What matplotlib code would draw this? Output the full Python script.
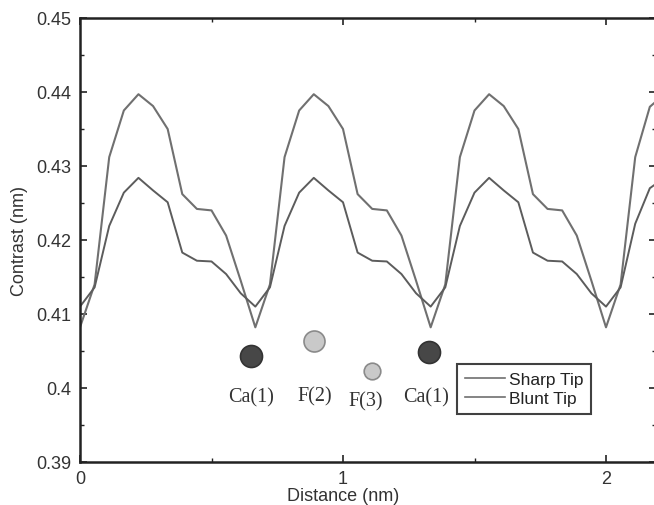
import numpy as np
import matplotlib
matplotlib.use("Agg")
import matplotlib.pyplot as plt
from matplotlib.ticker import MultipleLocator, FuncFormatter

# ---- data ----
distance = [i / 18 for i in range(41)]
sharp_tip = [
    0.4082, 0.4140, 0.4312, 0.4375, 0.4397, 0.4381, 0.4350, 0.4262, 0.4242, 0.4240, 0.4206, 0.4145,
    0.4082, 0.4140, 0.4312, 0.4375, 0.4397, 0.4381, 0.4350, 0.4262, 0.4242, 0.4240, 0.4206, 0.4145,
    0.4082, 0.4140, 0.4312, 0.4375, 0.4397, 0.4381, 0.4350, 0.4262, 0.4242, 0.4240, 0.4206, 0.4145,
    0.4082, 0.4140, 0.4312, 0.4380, 0.4397,
]
blunt_tip = [
    0.4110, 0.4136, 0.4219, 0.4264, 0.4284, 0.4267, 0.4251, 0.4183, 0.4172, 0.4171, 0.4154, 0.4128,
    0.4110, 0.4136, 0.4219, 0.4264, 0.4284, 0.4267, 0.4251, 0.4183, 0.4172, 0.4171, 0.4154, 0.4128,
    0.4110, 0.4136, 0.4219, 0.4264, 0.4284, 0.4267, 0.4251, 0.4183, 0.4172, 0.4171, 0.4154, 0.4128,
    0.4110, 0.4136, 0.4222, 0.4270, 0.4284,
]
atom_labels = ["Ca(1)", "F(2)", "F(3)", "Ca(1)"]
atom_x = [0.650, 0.891, 1.111, 1.328]
atom_y = [0.4043, 0.4063, 0.4023, 0.4048]
atom_label_x = [0.650, 0.891, 1.086, 1.316]
atom_label_y = [0.3988, 0.3990, 0.3983, 0.3988]
atom_kind = ["Ca", "F", "F", "Ca"]
atom_size = [11, 10.5, 8.3, 11]

fig = plt.figure(figsize=(6.54, 5.06), dpi=100)
W, H = 654, 506
ax = fig.add_axes([80 / W, (H - 463) / H, (656 - 80) / W, (463 - 19) / H])

line_color = "#707070"
ax.plot(distance, sharp_tip, color=line_color, lw=1.5, label="Sharp Tip")
ax.plot(distance, blunt_tip, color="#5c5c5c", lw=1.4, label="Blunt Tip")

for x, y, k, r in zip(atom_x, atom_y, atom_kind, atom_size):
    if k == "Ca":
        fc, ec = "#474747", "#333333"
    else:
        fc, ec = "#c9c9c9", "#8a8a8a"
    ax.plot([x], [y], "o", ms=2 * r * 72 / 100, mfc=fc, mec=ec, mew=1.2, zorder=5)

for lab, x, y in zip(atom_labels, atom_label_x, atom_label_y):
    ax.text(x, y, lab, ha="center", va="center", family="Liberation Serif", fontsize=14.5, color="#333333")

ax.set_xlim(0, (656 - 80) / 263)
ax.set_ylim(0.39, 0.45)
ax.xaxis.set_major_locator(MultipleLocator(1))
ax.xaxis.set_minor_locator(MultipleLocator(0.5))
ax.yaxis.set_major_locator(MultipleLocator(0.01))
ax.yaxis.set_minor_locator(MultipleLocator(0.005))
ax.yaxis.set_major_formatter(FuncFormatter(lambda v, p: "0.4" if abs(v - 0.4) < 1e-9 else "%.2f" % v))

ax.tick_params(which="both", direction="in", top=True, right=True, colors="#222222",
               labelsize=13, labelcolor="#333333")
ax.tick_params(which="major", length=5, width=1.2, pad=6)
ax.tick_params(which="minor", length=3, width=1.0)
for lab in ax.get_xticklabels() + ax.get_yticklabels():
    lab.set_family("Liberation Sans")
for s in ax.spines.values():
    s.set_linewidth(1.8)
    s.set_color("#222222")

ax.set_xlabel("Distance (nm)", family="Liberation Sans", fontsize=13, color="#333333")
ax.xaxis.set_label_coords((343 - 80) / 576, -(497 - 463) / 444)
ax.xaxis.label.set_va("center")
ax.set_ylabel("Contrast (nm)", family="Liberation Sans", fontsize=13, color="#333333")
ax.yaxis.set_label_coords(-(80 - 20) / 576, 0.5)
ax.yaxis.label.set_va("center")

leg = ax.legend(loc="upper left", bbox_to_anchor=((457 - 80) / 576, (463 - 365) / 444),
                frameon=True, fancybox=False, prop={"family": "Liberation Sans", "size": 12.5},
                handlelength=2.3, handletextpad=0.25, borderpad=0.45, labelspacing=0.25,
                borderaxespad=0)
leg.get_frame().set_edgecolor("#111111")
leg.get_frame().set_linewidth(1.5)
for h in leg.get_lines():
    h.set_color(line_color)
    h.set_linewidth(1.2)
for t in leg.get_texts():
    t.set_color("#222222")

fig.savefig("out.png", dpi=100)
